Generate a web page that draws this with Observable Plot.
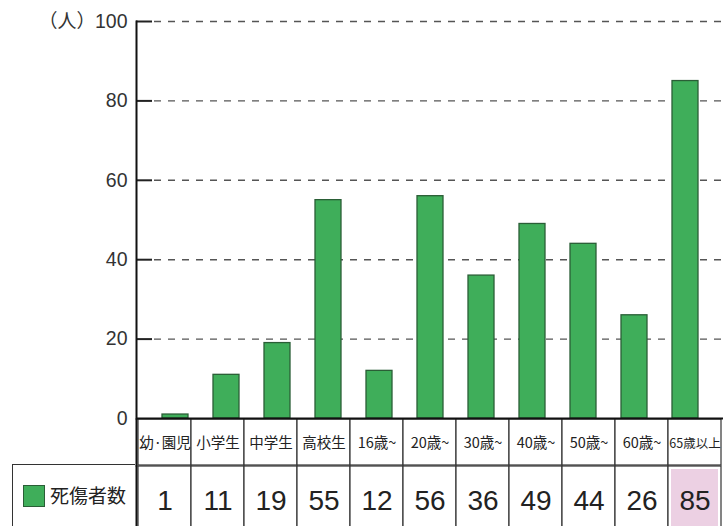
<!DOCTYPE html>
<html><head><meta charset="utf-8">
<script src="https://cdn.jsdelivr.net/npm/d3@7"></script>
<script src="https://cdn.jsdelivr.net/npm/@observablehq/plot@0.6"></script>
<style>
body{margin:0;background:#fff;font-family:"Liberation Sans","Noto Sans CJK JP",sans-serif;}
#wrap{position:relative;width:723px;height:526px;overflow:hidden;background:#fff;}
#wrap svg{display:block;overflow:visible;position:relative;}
#wrap svg.c1{z-index:2;}
#lab{position:absolute;left:12px;top:464px;width:123px;height:80px;border-top:1.3px solid #333;border-left:1.3px solid #333;box-sizing:border-box;}
#sw{position:absolute;left:10px;top:20px;width:22px;height:22px;background:#3fae5a;border:1.2px solid #2a5e36;box-sizing:border-box;}
#lt{position:absolute;left:37px;top:16px;font-size:19px;color:#222;font-family:"Noto Sans CJK JP",sans-serif;white-space:nowrap;}
</style></head>
<body><div id="wrap"></div>
<script>
const categories = ["幼·園児","小学生","中学生","高校生","16歳~","20歳~","30歳~","40歳~","50歳~","60歳~","65歳以上"];
const values = [1, 11, 19, 55, 12, 56, 36, 49, 44, 26, 85];
const yTicks = [0, 20, 40, 60, 80, 100];
const seriesName = "死傷者数";
const unitLabel = "（人）";
const highlight = "65歳以上";

const data = categories.map((c, i) => ({category: c, value: values[i]}));
const W = 723, ML = 136;
const green = "#3fae5a", dark = "#2a5e36";

const chart = Plot.plot({
  className: "c1",
  width: W, height: 419, marginLeft: ML, marginRight: 0, marginTop: 21, marginBottom: 1,
  x: {domain: categories, padding: 0.5, axis: null},
  y: {domain: [0, 100], ticks: yTicks},
  style: {fontFamily: "Liberation Sans, sans-serif", color: "#333", background: "transparent"},
  marks: [
    Plot.ruleY(yTicks.filter(t => t > 0), {stroke: "#555", strokeWidth: 1.4, strokeDasharray: "7,7", insetLeft: 18}),
    Plot.ruleY(yTicks.filter(t => t > 0), {stroke: "#222", strokeWidth: 2, insetRight: W - ML - 16}),
    Plot.axisY({ticks: yTicks, tickSize: 0, tickPadding: 9, fontSize: 19.5, label: null}),
    Plot.text([unitLabel], {frameAnchor: "top-left", lineAnchor: "middle", dx: -98, dy: 0, fontSize: 19, fill: "#333", fontFamily: "Noto Sans CJK JP"}),
    Plot.barY(data, {x: "category", y: "value", fill: green, stroke: dark, strokeWidth: 1.3}),
    Plot.ruleY([0], {stroke: "#111", strokeWidth: 2}),
    Plot.frame({anchor: "left", stroke: "#111", strokeWidth: 2})
  ]
});

const header = Plot.plot({
  width: W, height: 46, marginLeft: ML, marginRight: 0, marginTop: 0, marginBottom: 0,
  x: {domain: categories, padding: 0, axis: null},
  style: {background: "transparent"},
  marks: [
    Plot.cell(categories, {x: d => d, fill: "#fff", stroke: "#333", strokeWidth: 1.2}),
    Plot.text(categories, {x: d => d, text: d => d, fill: "#222", fontFamily: "Noto Sans CJK JP",
      fontSize: d => d.length > 4 ? 12.5 : 14.5, dy: 1}),
    Plot.frame({anchor: "left", stroke: "#111", strokeWidth: 2})
  ]
});

const rows = Plot.plot({
  width: W, height: 70, marginLeft: ML, marginRight: 0, marginTop: 1, marginBottom: 0,
  x: {domain: categories, padding: 0, axis: null},
  style: {background: "transparent"},
  marks: [
    Plot.cell(data, {x: "category", fill: "#fff", stroke: "#333", strokeWidth: 1.2}),
    Plot.cell(data.filter(d => d.category === highlight), {x: "category", fill: "#ecd0e3", inset: 3}),
    Plot.text(data, {x: "category", text: d => String(d.value), fontSize: 28, fill: "#222",
      fontFamily: "Liberation Sans", frameAnchor: "top", lineAnchor: "middle", dy: 35}),
    Plot.frame({anchor: "left", stroke: "#111", strokeWidth: 2})
  ]
});

const wrap = document.getElementById("wrap");
wrap.append(chart, header, rows);
const lab = document.createElement("div");
lab.id = "lab";
lab.innerHTML = '<div id="sw"></div><div id="lt"></div>';
wrap.append(lab);
document.getElementById("lt").textContent = seriesName;
</script>
</body></html>
